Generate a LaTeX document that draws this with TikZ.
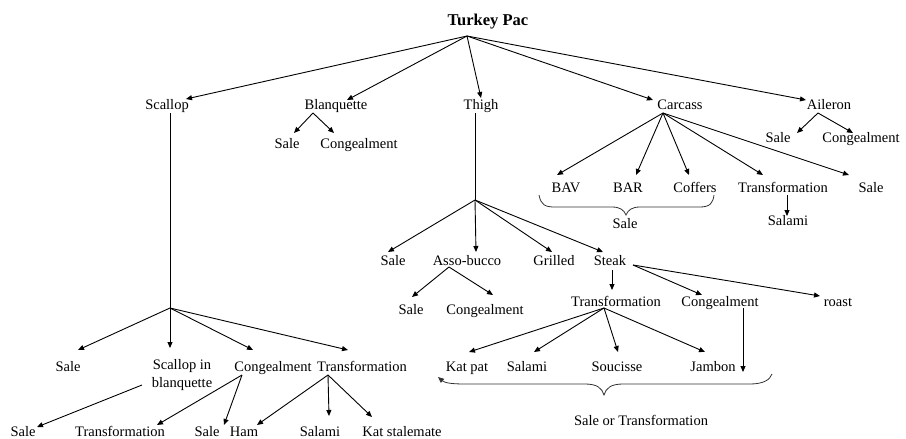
\documentclass[tikz,border=0pt]{standalone}
\usepackage{fontspec}
\setmainfont{Liberation Serif}
\usetikzlibrary{arrows.meta}
\tikzset{
  txt/.style={inner sep=0pt, font=\fontsize{14.5}{18}\selectfont},
  lbl/.style={txt, anchor=base, yshift=-4.5pt},
  ttl/.style={inner sep=0pt, anchor=base, yshift=-5.5pt, font=\fontsize{16.5}{19}\selectfont\bfseries},
  arr/.style={-{Triangle[length=6pt,width=5pt]}, line width=0.9pt},
  ln/.style={line width=0.9pt},
  bracel/.style={line width=0.8pt, draw=black!80},
}
\begin{document}
\begin{tikzpicture}[x=1pt,y=-1pt]
\fill[white] (0,0) rectangle (906,439);
\useasboundingbox (0,0) rectangle (906,439);

% ---- nodes ----
\node[ttl] (root) at (488,20) {Turkey Pac};

\node[lbl] (scallop) at (167,105) {Scallop};
\node[lbl] (blanq) at (336,105) {Blanquette};
\node[lbl] (thigh) at (481,105) {Thigh};
\node[lbl] (carcass) at (680,105) {Carcass};
\node[lbl] (aileron) at (829,105) {Aileron};

\node[lbl] (bsale) at (287,144) {Sale};
\node[lbl] (bcong) at (359,144) {Congealment};
\node[lbl] (asale) at (778,138) {Sale};
\node[lbl] (acong) at (861,138) {Congealment};

\node[lbl] (bav) at (566,188) {BAV};
\node[lbl] (bar) at (628,188) {BAR};
\node[lbl] (coffers) at (695,188) {Coffers};
\node[lbl] (ctrans) at (783,188) {Transformation};
\node[lbl] (csale) at (871,188) {Sale};
\node[lbl] (csalami) at (788,221) {Salami};
\node[lbl] (bracesale) at (625,224) {Sale};

\node[lbl] (tsale) at (393,261) {Sale};
\node[lbl] (asso) at (467,261) {Asso-bucco};
\node[lbl] (grilled) at (554,261) {Grilled};
\node[lbl] (steak) at (610,261) {Steak};

\node[lbl] (asale2) at (411,310) {Sale};
\node[lbl] (acong2) at (485,310) {Congealment};
\node[lbl] (strans) at (616,302) {Transformation};
\node[lbl] (scong) at (720,302) {Congealment};
\node[lbl] (roast) at (838,302) {roast};

\node[lbl] (katpat) at (467,367) {Kat pat};
\node[lbl] (ssalami) at (527,367) {Salami};
\node[lbl] (soucisse) at (617,367) {Soucisse};
\node[lbl] (jambon) at (713,367) {Jambon};
\node[lbl] (sot) at (641,421) {Sale or Transformation};

\node[lbl] (scsale) at (68,367) {Sale};
\node[txt, align=center] (scib) at (182,375) {Scallop in\\blanquette};
\node[lbl] (sccong) at (273,367) {Congealment};
\node[lbl] (sctrans) at (362,367) {Transformation};

\node[lbl] (sale2) at (23,432) {Sale};
\node[lbl] (trans2) at (120,432) {Transformation};
\node[lbl] (sale3) at (207,432) {Sale};
\node[lbl] (ham) at (244,432) {Ham};
\node[lbl] (salami2) at (320,432) {Salami};
\node[lbl] (katst) at (402,432) {Kat stalemate};

% ---- free coordinates ----
\coordinate (apex) at ([shift={(-21,10.5)}]root.base);
\coordinate (scfork) at (170,308);
\coordinate (thfork) at (475,200);
\coordinate (scongend) at (743,372);

% ---- level 1 ----
\draw[arr] (apex) -- ([shift={(19,-10.5)}]scallop.base);
\draw[arr] (apex) -- ([shift={(11,-9.5)}]blanq.base);
\draw[arr] (apex) -- ([shift={(0,-11.5)}]thigh.base);
\draw[arr] (apex) -- ([shift={(-27,-9.5)}]carcass.base);
\draw[arr] (apex) -- ([shift={(-23,-9.5)}]aileron.base);

% ---- Blanquette ----
\coordinate (bfork) at ([shift={(-23,3.5)}]blanq.base);
\draw[arr] (bfork) -- ([shift={(7,-15.5)}]bsale.base);
\draw[arr] (bfork) -- ([shift={(-25,-15.5)}]bcong.base);

% ---- Aileron ----
\coordinate (afork) at ([shift={(-11,3.5)}]aileron.base);
\draw[arr] (afork) -- ([shift={(19,-9.5)}]asale.base);
\draw[arr] (afork) -- ([shift={(-8,-9.5)}]acong.base);

% ---- Carcass ----
\coordinate (cfork) at ([shift={(-17,3.5)}]carcass.base);
\draw[arr] (cfork) -- ([shift={(-9,-17.5)}]bav.base);
\draw[arr] (cfork) -- ([shift={(8,-17.5)}]bar.base);
\draw[arr] (cfork) -- ([shift={(-6,-17.5)}]coffers.base);
\draw[arr] (cfork) -- ([shift={(-20,-17.5)}]ctrans.base);
\draw[arr] (cfork) -- ([shift={(-22,-17.5)}]csale.base);
\draw[arr] ([shift={(4,2.5)}]ctrans.base) -- ([shift={(-1,-9.5)}]csalami.base);
\draw[bracel] (539,195) .. controls (541,205) and (545,207) .. (555,207) -- (612,207)
  .. controls (620,207) and (624,210) .. (626,215)
  .. controls (628,210) and (632,207) .. (640,207) -- (700,207)
  .. controls (710,207) and (713,203) .. (714,195);

% ---- Thigh ----
\draw[ln] ([shift={(-6,3.5)}]thigh.base) -- (thfork);
\draw[arr] (thfork) -- ([shift={(-5,-13.5)}]tsale.base);
\draw[arr] (thfork) -- ([shift={(9,-13.5)}]asso.base);
\draw[arr] (thfork) -- ([shift={(-2,-13.5)}]grilled.base);
\draw[arr] (thfork) -- ([shift={(-7,-13.5)}]steak.base);

\coordinate (assofork) at ([shift={(-18,1.5)}]asso.base);
\draw[arr] (assofork) -- ([shift={(1,-17.5)}]asale2.base);
\draw[arr] (assofork) -- ([shift={(8,-19.5)}]acong2.base);

\coordinate (stfork) at ([shift={(23,-0.5)}]steak.base);
\draw[arr] ([shift={(2,4.5)}]steak.base) -- ([shift={(-4,-16.5)}]strans.base);
\draw[arr] (stfork) -- ([shift={(-18,-11.5)}]scong.base);
\draw[arr] (stfork) -- ([shift={(-18,-10.5)}]roast.base);

\coordinate (trfork) at ([shift={(-12,1.5)}]strans.base);
\draw[arr] (trfork) -- ([shift={(2,-19.5)}]katpat.base);
\draw[arr] (trfork) -- ([shift={(7,-19.5)}]ssalami.base);
\draw[arr] (trfork) -- ([shift={(1,-19.5)}]soucisse.base);
\draw[arr] (trfork) -- ([shift={(-8,-19.5)}]jambon.base);
\draw[arr] ([shift={(23,1.5)}]scong.base) -- (scongend);

\draw[bracel, {Triangle[length=6pt,width=5pt]}-] (438,377)
  .. controls (445,383) and (452,384) .. (465,384) -- (585,384)
  .. controls (597,384) and (602,388) .. (604,395)
  .. controls (606,388) and (611,384) .. (623,384) -- (750,384)
  .. controls (763,384) and (770,380) .. (772,374);

% ---- Scallop ----
\draw[ln] ([shift={(3,3.5)}]scallop.base) -- (scfork);
\draw[arr] (scfork) -- ([shift={(10,-21.5)}]scsale.base);
\draw[arr] (scfork) -- ([shift={(-12,-27)}]scib.center);
\draw[arr] (scfork) -- ([shift={(-20,-21.5)}]sccong.base);
\draw[arr] (scfork) -- ([shift={(-14,-21.5)}]sctrans.base);

\draw[arr] ([shift={(-40,10)}]scib.center) -- ([shift={(14,-9.5)}]sale2.base);

\coordinate (sccfork) at ([shift={(-31,3.5)}]sccong.base);
\draw[arr] (sccfork) -- ([shift={(37,-11.5)}]trans2.base);
\draw[arr] (sccfork) -- ([shift={(17,-11.5)}]sale3.base);

\coordinate (sctfork) at ([shift={(-34,3.5)}]sctrans.base);
\draw[arr] (sctfork) -- ([shift={(13,-11.5)}]ham.base);
\draw[arr] (sctfork) -- ([shift={(9,-20.5)}]salami2.base);
\draw[arr] (sctfork) -- ([shift={(-30,-19.5)}]katst.base);
\end{tikzpicture}
\end{document}
